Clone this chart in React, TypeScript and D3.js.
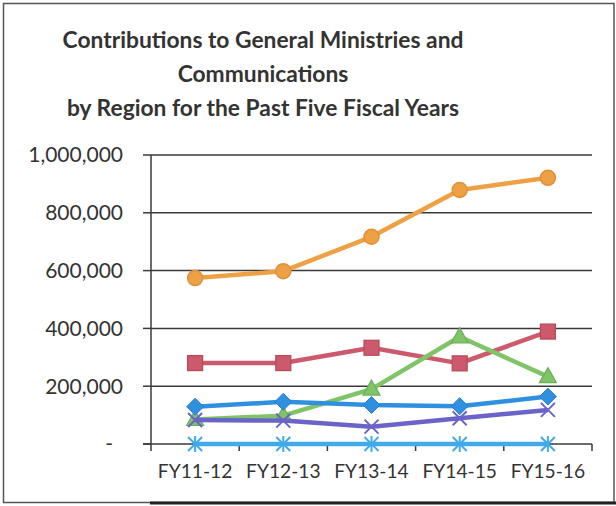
import React from "react";
import * as d3 from "d3";

const categories = ["FY11-12", "FY12-13", "FY13-14", "FY14-15", "FY15-16"];
const orangeValues = [574000, 598000, 717000, 879000, 921000];
const redValues = [280000, 280000, 333000, 279000, 389000];
const greenValues = [85000, 98000, 190000, 371000, 233000];
const blueValues = [129000, 146000, 135000, 131000, 164000];
const purpleValues = [83000, 81000, 60000, 89000, 118000];
const lightBlueValues = [0, 0, 0, 0, 0];
const yTicks = [0, 200000, 400000, 600000, 800000, 1000000];
const titleLines = [
  "Contributions to General Ministries and",
  "Communications",
  "by Region for the Past Five Fiscal Years",
];

const series = [
  { name: "orange", values: orangeValues, color: "#eea045", stroke: "#e0903a", marker: "circle" },
  { name: "red", values: redValues, color: "#cc5a6c", stroke: "#b84858", marker: "square" },
  { name: "green", values: greenValues, color: "#80c468", stroke: "#6aae58", marker: "triangle" },
  { name: "blue", values: blueValues, color: "#3090e0", stroke: "#2a80d0", marker: "diamond" },
  { name: "purple", values: purpleValues, color: "#6a64c8", stroke: "#5a55b8", marker: "x" },
  { name: "lightblue", values: lightBlueValues, color: "#40aaea", stroke: "#40aaea", marker: "asterisk" },
];

const FONT = "Lato, 'Open Sans', sans-serif";

function Marker({ type, x, y, color, stroke }: any) {
  if (type === "circle") return <circle cx={x} cy={y} r={7.5} fill={color} stroke={stroke} strokeWidth={1.5} />;
  if (type === "square") return <rect x={x - 7.5} y={y - 7.5} width={15} height={15} fill={color} stroke={stroke} strokeWidth={1.2} />;
  if (type === "triangle") {
    const p = d3.path();
    p.moveTo(x, y - 9);
    p.lineTo(x + 8.5, y + 6);
    p.lineTo(x - 8.5, y + 6);
    p.closePath();
    return <path d={p.toString()} fill={color} stroke={stroke} strokeWidth={1.2} />;
  }
  if (type === "diamond") {
    const p = d3.path();
    p.moveTo(x, y - 8.5);
    p.lineTo(x + 8.5, y);
    p.lineTo(x, y + 8.5);
    p.lineTo(x - 8.5, y);
    p.closePath();
    return <path d={p.toString()} fill={color} stroke={stroke} strokeWidth={1} />;
  }
  if (type === "x") {
    return (
      <g stroke={color} strokeWidth={2}>
        <line x1={x - 7} y1={y - 7} x2={x + 7} y2={y + 7} />
        <line x1={x - 7} y1={y + 7} x2={x + 7} y2={y - 7} />
      </g>
    );
  }
  return (
    <g stroke={color} strokeWidth={2}>
      <line x1={x - 7} y1={y - 7} x2={x + 7} y2={y + 7} />
      <line x1={x - 7} y1={y + 7} x2={x + 7} y2={y - 7} />
      <line x1={x} y1={y - 8} x2={x} y2={y + 8} />
    </g>
  );
}

export default function App() {
  const left = 151, right = 592, top = 155, bottom = 444;
  const x = d3.scaleBand().domain(categories).range([left, right]);
  const y = d3.scaleLinear().domain([0, 1000000]).range([bottom, top]);
  const cx = (c: string) => (x(c) as number) + x.bandwidth() / 2;
  const fmt = (v: number) => (v === 0 ? "-" : d3.format(",")(v));
  const line = d3.line<number>().x((_, i) => cx(categories[i])).y((d) => y(d));
  const boundaries = categories.map((c) => x(c) as number).concat([right]);

  return (
    <svg width={616} height={506} style={{ position: "absolute", left: 0, top: 0, background: "#fff" }}>
      <rect x={0} y={0} width={616} height={506} fill="#fff" />
      <rect x={3.5} y={3.5} width={610.5} height={499} fill="none" stroke="#555" strokeWidth={1.5} />
      <line x1={150} y1={503} x2={616} y2={503} stroke="#222" strokeWidth={3} />
      {titleLines.map((t, i) => (
        <text key={i} x={263} y={48 + i * 34} textAnchor="middle" fontFamily={FONT} fontWeight="bold" fontSize={22.8} fill="#333">
          {t}
        </text>
      ))}
      {yTicks.map((v) => (
        <g key={v}>
          {v !== 0 && <line x1={left} x2={right} y1={y(v)} y2={y(v)} stroke="#3a3a3a" strokeWidth={1.5} />}
          <line x1={143} x2={left} y1={y(v)} y2={y(v)} stroke="#3a3a3a" strokeWidth={1.5} />
          <text
            x={v === 0 ? 113 : 123}
            y={y(v)}
            dy="0.35em"
            textAnchor="end"
            fontFamily={FONT}
            fontSize={21}
            fill="#333"
          >
            {fmt(v)}
          </text>
        </g>
      ))}
      <line x1={left} x2={left} y1={top} y2={bottom} stroke="#3a3a3a" strokeWidth={1.5} />
      <line x1={143} x2={right} y1={bottom} y2={bottom} stroke="#3a3a3a" strokeWidth={1.5} />
      {boundaries.map((b, i) => (
        <line key={i} x1={b} x2={b} y1={bottom} y2={bottom + 7} stroke="#3a3a3a" strokeWidth={1.5} />
      ))}
      {categories.map((c) => (
        <text key={c} x={cx(c)} y={471} dy="0.35em" textAnchor="middle" fontFamily={FONT} fontSize={19.2} fill="#333">
          {c}
        </text>
      ))}
      {series.map((s) => (
        <g key={s.name}>
          <path d={line(s.values) as string} fill="none" stroke={s.color} strokeWidth={4.5} strokeLinejoin="round" />
          {s.values.map((v, i) => (
            <Marker key={i} type={s.marker} x={cx(categories[i])} y={y(v)} color={s.color} stroke={s.stroke} />
          ))}
        </g>
      ))}
    </svg>
  );
}
